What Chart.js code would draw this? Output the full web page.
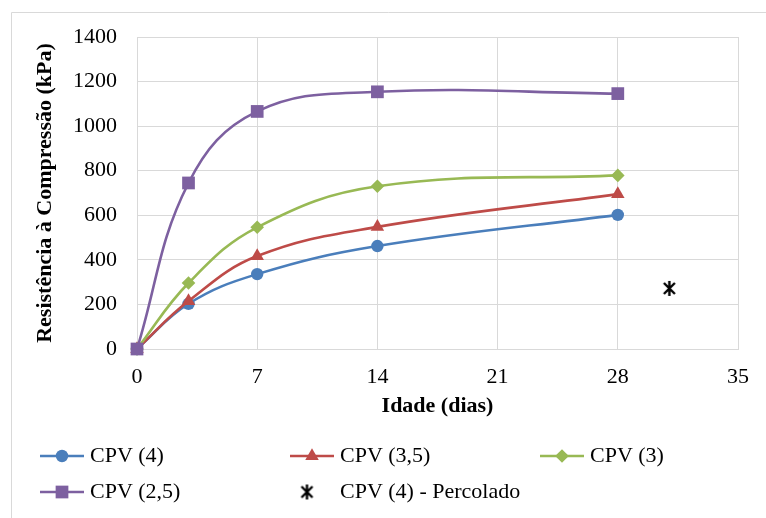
<!DOCTYPE html>
<html>
<head>
<meta charset="utf-8">
<script src="https://cdn.jsdelivr.net/npm/chart.js@4/dist/chart.umd.min.js"></script>
<style>
  html, body { margin: 0; padding: 0; background: #fff; }
  #wrap { width: 766px; height: 518px; position: relative; }
</style>
</head>
<body>
<div id="wrap"><canvas id="c" width="766" height="518"></canvas></div>
<script>
// ---- data ----
const ages = [0, 3, 7, 14, 28];
const cpv4 = [0, 203, 336, 462, 602];
const cpv35 = [0, 215, 417, 548, 695];
const cpv3 = [0, 296, 546, 730, 779];
const cpv25 = [0, 745, 1066, 1154, 1146];
const percoladoAge = [31];
const percoladoValue = [272];
const seriesNames = ['CPV (4)', 'CPV (3,5)', 'CPV (3)', 'CPV (2,5)', 'CPV (4) - Percolado'];
const xTicks = [0, 7, 14, 21, 28, 35];
const yTicks = [0, 200, 400, 600, 800, 1000, 1200, 1400];

const FONT = "'Liberation Serif', 'Times New Roman', serif";

// star marker (X with vertical bar)
function makeStar(size) {
  const c = document.createElement('canvas');
  c.width = size; c.height = size;
  const g = c.getContext('2d');
  g.strokeStyle = '#000'; g.lineWidth = 2.4;
  const m = 2, s = size - 2;
  g.beginPath();
  g.moveTo(m + 1, m + 1); g.lineTo(s - 1, s - 1);
  g.moveTo(s - 1, m + 1); g.lineTo(m + 1, s - 1);
  g.moveTo(size / 2, m - 1); g.lineTo(size / 2, s + 1);
  g.stroke();
  return c;
}
const starImg = makeStar(17);

const pts = (xs, ys) => xs.map((x, i) => ({ x: x, y: ys[i] }));

const styles = [
  { color: '#4A7EBB', point: 'circle', r: 6.2 },
  { color: '#BE4B48', point: 'triangle', r: 7.8 },
  { color: '#98B954', point: 'rectRot', r: 6.8 },
  { color: '#7D60A0', point: 'rect', r: 9 },
];
const values = [cpv4, cpv35, cpv3, cpv25];

const datasets = values.map((v, i) => ({
  label: seriesNames[i],
  data: pts(ages, v),
  borderColor: styles[i].color,
  backgroundColor: styles[i].color,
  pointStyle: styles[i].point,
  pointRadius: styles[i].r,
  pointBorderWidth: 0,
  borderWidth: 2.6,
  tension: 0.4,
  showLine: true,
  clip: false,
}));
datasets.push({
  label: seriesNames[4],
  data: pts(percoladoAge, percoladoValue),
  borderColor: '#000',
  backgroundColor: '#000',
  pointStyle: starImg,
  pointRadius: 8,
  showLine: false,
  clip: false,
});
// draw order: later series on top like Excel
datasets.forEach((d, i) => d.order = 10 - i);

const frame = {
  id: 'frame',
  beforeDraw(chart) {
    const ctx = chart.ctx;
    ctx.save();
    ctx.strokeStyle = '#d9d9d9';
    ctx.lineWidth = 1;
    ctx.beginPath();
    ctx.moveTo(11.5, 518);
    ctx.lineTo(11.5, 12.5);
    ctx.lineTo(766, 12.5);
    ctx.stroke();
    ctx.restore();
  }
};

const legendPlugin = {
  id: 'customLegend',
  afterDraw(chart) {
    const ctx = chart.ctx;
    const cols = [40, 290, 540];
    const rows = [456, 492];
    ctx.save();
    chart.data.datasets.forEach((ds, i) => {
      const x = cols[i % 3];
      const y = rows[Math.floor(i / 3)];
      if (ds.showLine !== false) {
        ctx.strokeStyle = ds.borderColor;
        ctx.lineWidth = 2.6;
        ctx.beginPath();
        ctx.moveTo(x, y);
        ctx.lineTo(x + 44, y);
        ctx.stroke();
      }
      ctx.fillStyle = ds.backgroundColor;
      ctx.strokeStyle = ds.borderColor;
      Chart.helpers.drawPoint(ctx, {
        pointStyle: ds.pointStyle,
        radius: ds.pointRadius,
        borderWidth: 0,
        rotation: 0,
      }, ds.showLine !== false ? x + 22 : x + 17, y);
      ctx.fillStyle = '#000';
      ctx.font = "22px " + FONT;
      ctx.textBaseline = 'middle';
      ctx.textAlign = 'left';
      ctx.fillText(ds.label, x + 50, y);
    });
    ctx.restore();
  }
};

new Chart(document.getElementById('c'), {
  type: 'scatter',
  data: { datasets: datasets },
  options: {
    responsive: false,
    animation: false,
    layout: { padding: { left: 0, right: 28, top: 37, bottom: 94 } },
    plugins: {
      legend: { display: false },
      tooltip: { enabled: false },
    },
    scales: {
      x: {
        type: 'linear',
        min: 0, max: 35,
        afterBuildTicks(s) { s.ticks = xTicks.map(v => ({ value: v })); },
        afterFit(s) { s.height = 75; },
        grid: { color: '#d9d9d9', lineWidth: 1, drawTicks: false },
        border: { color: '#d9d9d9' },
        ticks: { color: '#000', font: { family: FONT, size: 22 }, padding: 15, callback: v => String(v) },
        title: {
          display: true, text: 'Idade (dias)', color: '#000',
          font: { family: FONT, size: 22, weight: 'bold' },
          padding: { top: 0, bottom: 4 },
        },
      },
      y: {
        type: 'linear',
        min: 0, max: 1400,
        afterBuildTicks(s) { s.ticks = yTicks.map(v => ({ value: v })); },
        afterFit(s) { s.width = 137; },
        grid: { color: '#d9d9d9', lineWidth: 1, drawTicks: false },
        border: { color: '#d9d9d9' },
        ticks: { color: '#000', font: { family: FONT, size: 22 }, padding: 20, callback: v => String(v) },
        title: {
          display: true, text: 'Resistência à Compressão (kPa)', color: '#000',
          font: { family: FONT, size: 22, weight: 'bold' },
          padding: { top: 32, bottom: 0 },
        },
      },
    },
  },
  plugins: [frame, legendPlugin],
});
</script>
</body>
</html>
